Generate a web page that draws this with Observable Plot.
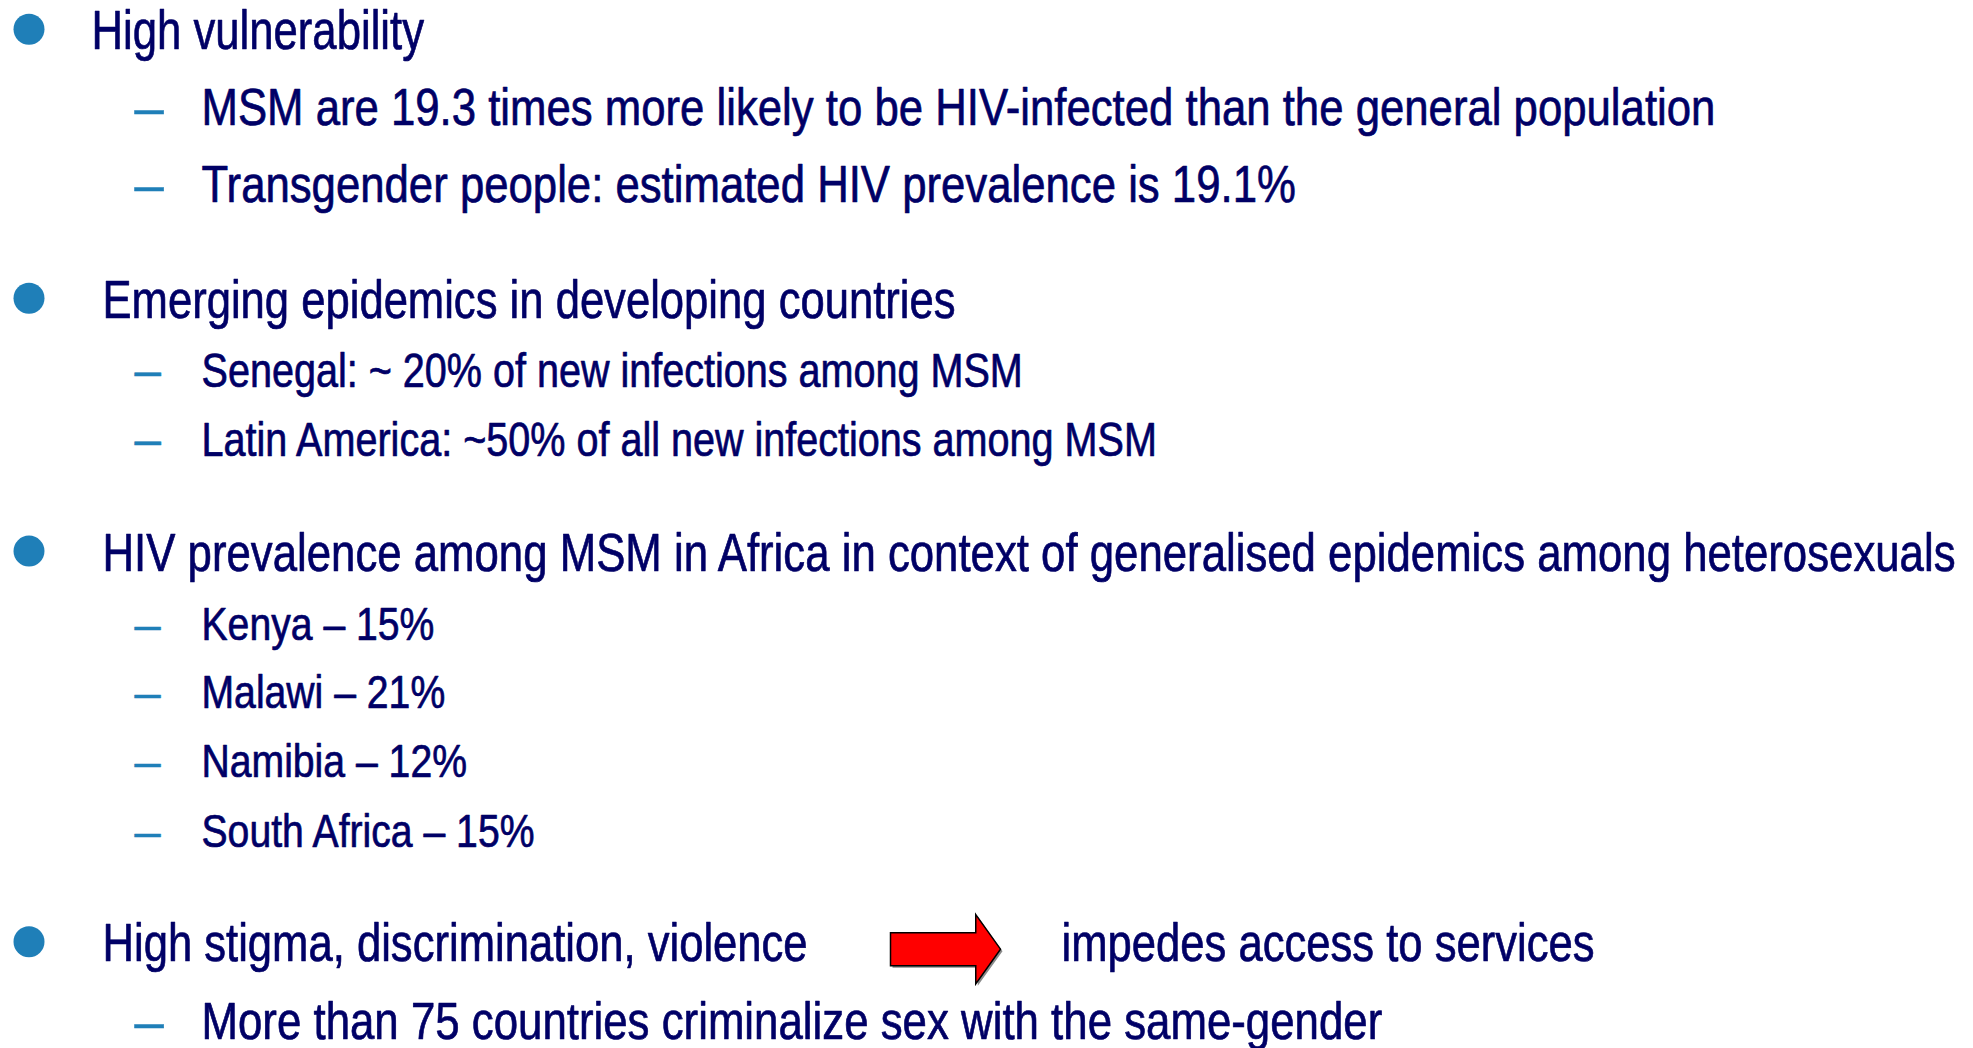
<!DOCTYPE html>
<html><head><meta charset="utf-8">
<script src="https://cdn.jsdelivr.net/npm/d3@7"></script>
<script src="https://cdn.jsdelivr.net/npm/@observablehq/plot@0.6"></script>
<style>html,body{margin:0;padding:0;background:#fff;overflow:hidden} svg{display:block}</style>
</head><body><div id="chart"></div>
<script>
// ---- content ----
const lines = [
  "High vulnerability",
  "MSM are 19.3 times more likely to be HIV-infected than the general population",
  "Transgender people: estimated HIV prevalence is 19.1%",
  "Emerging epidemics in developing countries",
  "Senegal: ~ 20% of new infections among MSM",
  "Latin America: ~50% of all new infections among MSM",
  "HIV prevalence among MSM in Africa in context of generalised epidemics among heterosexuals",
  "Kenya – 15%",
  "Malawi – 21%",
  "Namibia – 12%",
  "South Africa – 15%",
  "High stigma, discrimination, violence",
  "More than 75 countries criminalize sex with the same-gender"
];
const levels = [0, 1, 1, 0, 1, 1, 0, 1, 1, 1, 1, 0, 1];
const groups = [1, 1, 1, 2, 2, 2, 3, 3, 3, 3, 3, 4, 4];
const slots  = [0.69, 1.78, 2.89, 4.54, 5.53, 6.52, 8.16, 9.16, 10.13, 11.12, 12.11, 13.75, 14.87];
const consequence = "impedes access to services";
const consequenceSlot = 13.75;

// ---- layout & style ----
const W = 1973, H = 1048;
const navy = "#000066", blue = "#1f7fb8";
const font = "Liberation Sans, Arial, sans-serif";
const groupStyle = {
  1: {main: 56,   sub: 52.5, mainX: 91,  squeezeMain: 0.78},
  2: {main: 53.5, sub: 47.5, mainX: 102, squeezeMain: 0.815},
  3: {main: 53.5, sub: 47,   mainX: 102, squeezeMain: 0.818},
  4: {main: 53.5, sub: 52.6, mainX: 102, squeezeMain: 0.815}
};
const squeezeSub = 0.833;
const bulletX = 28.5, dashX = 134, subX = 201, arrowX = 945, consequenceX = 1061;

const rows = lines.map((text, i) => ({text, level: levels[i], group: groups[i], slot: slots[i]}));
const mains = rows.filter(r => r.level === 0);
const subs = rows.filter(r => r.level === 1);

const arrowSymbol = {
  draw(ctx, size) {
    const r = Math.sqrt(size / Math.PI);
    const hb = 0.55 * r, hh = 0.63 * r, bh = 0.3 * r;
    ctx.moveTo(-r, -bh);
    ctx.lineTo(hb, -bh);
    ctx.lineTo(hb, -hh);
    ctx.lineTo(r, 0);
    ctx.lineTo(hb, hh);
    ctx.lineTo(hb, bh);
    ctx.lineTo(-r, bh);
    ctx.closePath();
  }
};

const textStyle = {textAnchor: "start", lineAnchor: "bottom", fontFamily: font, fill: navy, stroke: navy, strokeWidth: 0.7};
const marks = [];
for (const g of [1, 2, 3, 4]) {
  const st = groupStyle[g];
  const m = mains.filter(r => r.group === g);
  const s = subs.filter(r => r.group === g);
  marks.push(Plot.dot(m, {x: () => bulletX, y: "slot", dy: -19.5, r: 15.5, fill: blue}));
  marks.push(Plot.text(m, {...textStyle, x: () => st.mainX, y: "slot", text: "text", fontSize: st.main}));
  marks.push(Plot.text(s, {x: () => dashX, y: "slot", text: () => "–", textAnchor: "start", lineAnchor: "bottom",
    fontSize: st.sub, fontFamily: font, fill: blue, stroke: blue, strokeWidth: 0.5}));
  marks.push(Plot.text(s, {...textStyle, x: () => subX, y: "slot", text: "text", fontSize: st.sub}));
}
// arrow (shadow + body) and its consequence
marks.push(Plot.dot([consequenceSlot], {x: () => arrowX, y: d => d, dx: 2, dy: -10, r: 55, symbol: arrowSymbol, fill: "#8a8a8a"}));
marks.push(Plot.dot([consequenceSlot], {x: () => arrowX, y: d => d, dy: -12, r: 55, symbol: arrowSymbol, fill: "#ff0000", stroke: "#000", strokeWidth: 1.5}));
marks.push(Plot.text([consequence], {...textStyle, x: () => consequenceX, y: () => consequenceSlot, text: d => d,
  fontSize: groupStyle[4].main}));

const svg = Plot.plot({
  width: W, height: H,
  margin: 0, marginTop: 0, marginRight: 0, marginBottom: 0, marginLeft: 0,
  x: {domain: [0, W], range: [0, W], axis: null},
  y: {domain: [0, 15], range: [0, H], axis: null},
  style: {background: "#fff", overflow: "visible"},
  marks
});

// horizontally condense the navy body text (narrow slide typeface)
const squeezeOf = new Map(rows.map(r => [r.text, r.level === 1 ? squeezeSub : groupStyle[r.group].squeezeMain]));
squeezeOf.set(consequence, groupStyle[4].squeezeMain);
svg.querySelectorAll("text").forEach(t => {
  const k = squeezeOf.get(t.textContent);
  if (k === undefined) return;
  const tr = t.getAttribute("transform") || "";
  t.setAttribute("transform", tr + ` scale(${k},1)`);
});
document.getElementById("chart").appendChild(svg);
</script>
</body></html>
